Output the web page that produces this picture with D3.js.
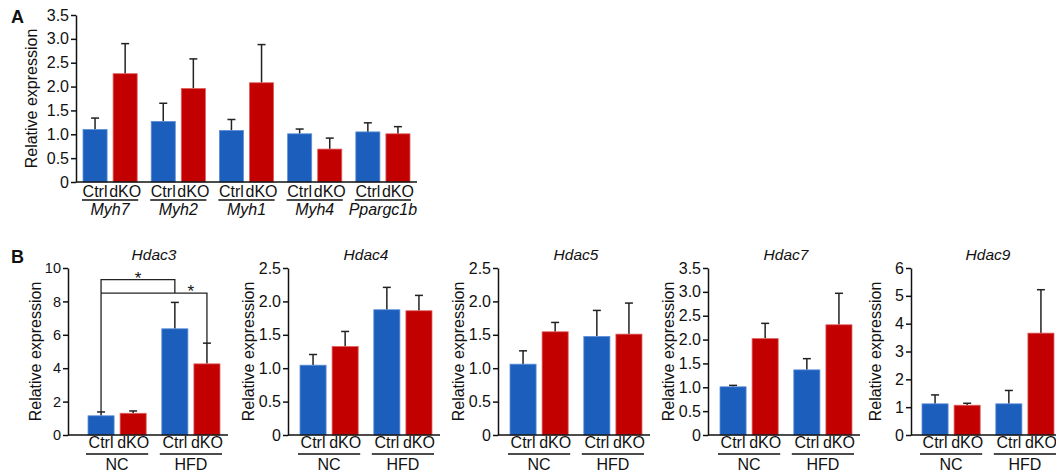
<!DOCTYPE html>
<html>
<head>
<meta charset="utf-8">
<script src="https://cdn.jsdelivr.net/npm/d3@7"></script>
<style>
  body { margin: 0; background: #fff; }
  text { font-family: "Liberation Sans", Arial, Helvetica, sans-serif; fill: #111; }
  .axis path, .axis line { stroke: #111; stroke-width: 1.5px; }
</style>
</head>
<body>
<svg width="1056" height="475"></svg>
<script>
// ---- panel A data ----
const genesA = ["Myh7", "Myh2", "Myh1", "Myh4", "Ppargc1b"];
const ctrlA = [1.10, 1.27, 1.08, 1.01, 1.05];
const ctrlSemA = [0.24, 0.38, 0.23, 0.10, 0.19];
const dkoA = [2.27, 1.96, 2.08, 0.69, 1.01];
const dkoSemA = [0.63, 0.62, 0.80, 0.23, 0.15];
const ticksA = [0, 0.5, 1.0, 1.5, 2.0, 2.5, 3.0, 3.5];

// ---- panel B data ----
const diets = ["NC", "HFD"];
const genotypes = ["Ctrl", "dKO"];
const hdacs = ["Hdac3", "Hdac4", "Hdac5", "Hdac7", "Hdac9"];
const ctrlB = [[1.15, 6.36], [1.045, 1.875], [1.06, 1.475], [1.01, 1.365], [1.12, 1.12]];
const ctrlSemB = [[0.23, 1.58], [0.16, 0.335], [0.20, 0.39], [0.03, 0.235], [0.32, 0.48]];
const dkoB = [[1.30, 4.26], [1.325, 1.86], [1.545, 1.51], [2.02, 2.31], [1.07, 3.66]];
const dkoSemB = [[0.14, 1.24], [0.225, 0.23], [0.14, 0.465], [0.32, 0.66], [0.07, 1.56]];
const ticksB = [
  [0, 2, 4, 6, 8, 10],
  [0, 0.5, 1.0, 1.5, 2.0, 2.5],
  [0, 0.5, 1.0, 1.5, 2.0, 2.5],
  [0, 0.5, 1.0, 1.5, 2.0, 2.5, 3.0, 3.5],
  [0, 1, 2, 3, 4, 5, 6]
];
// significance brackets in Hdac3 (y levels in data units)
const bracketLevels = [9.3, 8.5];

const blue = "#1c5ebc", red = "#c20000";
const svg = d3.select("svg");

function fmtTick(step) {
  return v => v === 0 ? "0" : (step < 1 ? d3.format(".1f")(v) : d3.format("d")(v));
}

// draws one bar panel; returns scales so extra marks can be placed
function drawPanel(p) {
  const g = svg.append("g");
  const y = d3.scaleLinear().domain([0, d3.max(p.ticks)]).range([p.y0, p.yTop]);
  const gx = d3.scaleBand().domain(p.groups).range(p.groupRange).paddingInner(p.groupPad);
  const bx = d3.scaleBand().domain(genotypes).range([0, gx.bandwidth()])
      .paddingInner(p.barPadInner).paddingOuter(p.barPadOuter);

  const rows = [];
  p.groups.forEach((grp, i) => {
    rows.push({grp, geno: "Ctrl", v: p.ctrl[i], e: p.ctrlSem[i]});
    rows.push({grp, geno: "dKO", v: p.dko[i], e: p.dkoSem[i]});
  });
  const cx = d => gx(d.grp) + bx(d.geno) + bx.bandwidth() / 2;

  // error bars (upper only)
  g.selectAll(".err").data(rows).enter().append("line")
      .attr("x1", cx).attr("x2", cx)
      .attr("y1", d => y(d.v)).attr("y2", d => y(d.v + d.e))
      .attr("stroke", "#222").attr("stroke-width", 1.5);
  g.selectAll(".cap").data(rows).enter().append("line")
      .attr("x1", d => cx(d) - 4).attr("x2", d => cx(d) + 4)
      .attr("y1", d => y(d.v + d.e)).attr("y2", d => y(d.v + d.e))
      .attr("stroke", "#222").attr("stroke-width", 1.5);

  // bars
  g.selectAll(".bar").data(rows).enter().append("rect")
      .attr("x", d => gx(d.grp) + bx(d.geno))
      .attr("y", d => y(d.v))
      .attr("width", bx.bandwidth())
      .attr("height", d => p.y0 - y(d.v))
      .attr("fill", d => d.geno === "Ctrl" ? blue : red)
      .attr("stroke", d => d.geno === "Ctrl" ? "#5d8fd6" : "#e06060")
      .attr("stroke-width", 0.8);

  // y axis
  const step = p.ticks[1] - p.ticks[0];
  g.append("g").attr("class", "axis")
      .attr("transform", `translate(${p.x0},0)`)
      .call(d3.axisLeft(y).tickValues(p.ticks).tickSize(5).tickSizeOuter(0)
        .tickPadding(2).tickFormat(fmtTick(step)))
      .selectAll("text").style("font-size", p.tickFont + "px");
  // x axis baseline
  g.append("line").attr("x1", p.x0).attr("x2", p.xEnd)
      .attr("y1", p.y0).attr("y2", p.y0)
      .attr("stroke", "#111").attr("stroke-width", 1.5);

  // genotype labels
  g.selectAll(".geno").data(rows).enter().append("text")
      .attr("x", cx).attr("y", p.genoY)
      .attr("text-anchor", "middle").style("font-size", "16px")
      .text(d => d.geno);
  // group underline + label
  g.selectAll(".uline").data(p.groups).enter().append("line")
      .attr("x1", d => gx(d) + p.lineInset).attr("x2", d => gx(d) + gx.bandwidth() - p.lineInset)
      .attr("y1", p.lineY).attr("y2", p.lineY)
      .attr("stroke", "#111").attr("stroke-width", 1.5);
  g.selectAll(".glabel").data(p.groups).enter().append("text")
      .attr("x", d => gx(d) + gx.bandwidth() / 2).attr("y", p.groupY)
      .attr("text-anchor", "middle").style("font-size", "16px")
      .style("font-style", p.italicGroups ? "italic" : "normal")
      .text(d => d);

  // y label
  g.append("text")
      .attr("transform", "rotate(-90)")
      .attr("x", -(p.y0 + p.yTop) / 2).attr("y", p.labelX)
      .attr("text-anchor", "middle").style("font-size", "16px")
      .text("Relative expression");

  if (p.title) {
    g.append("text")
      .attr("x", (p.groupRange[0] + p.groupRange[1]) / 2).attr("y", 260)
      .attr("text-anchor", "middle").style("font-size", "15.5px").style("font-style", "italic")
      .text(p.title);
  }
  return {g, y, gx, bx, rows, cx};
}

// ---- panel A ----
drawPanel({
  x0: 76, xEnd: 417, y0: 182, yTop: 15, ticks: ticksA, tickFont: 16,
  groups: genesA, ctrl: ctrlA, ctrlSem: ctrlSemA, dko: dkoA, dkoSem: dkoSemA,
  groupRange: [76, 417], groupPad: 0, barPadInner: 0.2, barPadOuter: 0.233,
  genoY: 197, lineY: 200, groupY: 215, lineInset: 6, italicGroups: true,
  labelX: 37
});

// ---- panel B ----
const layoutB = [
  {x0: 68, xEnd: 228, inset: 17, labelX: 41, tickFont: 14.5},
  {x0: 288, xEnd: 440, inset: 9, labelX: 254, tickFont: 16},
  {x0: 498, xEnd: 650, inset: 9, labelX: 464, tickFont: 16},
  {x0: 708, xEnd: 860, inset: 9, labelX: 674, tickFont: 16},
  {x0: 911, xEnd: 1056, inset: 8, labelX: 881, tickFont: 16}
];
const panelsB = hdacs.map((h, i) => drawPanel({
  x0: layoutB[i].x0, xEnd: layoutB[i].xEnd, y0: 435, yTop: 268, ticks: ticksB[i],
  tickFont: layoutB[i].tickFont,
  groups: diets, ctrl: ctrlB[i], ctrlSem: ctrlSemB[i], dko: dkoB[i], dkoSem: dkoSemB[i],
  groupRange: [layoutB[i].x0 + layoutB[i].inset, layoutB[i].x0 + layoutB[i].inset + 138],
  groupPad: 0.13, barPadInner: 0.1875, barPadOuter: 0.094,
  genoY: 448, lineY: 454, groupY: 470, lineInset: 1, italicGroups: false,
  labelX: layoutB[i].labelX, title: h
}));

// significance brackets on Hdac3
{
  const p = panelsB[0];
  const r = p.rows; // 0 Ctrl NC, 1 dKO NC, 2 Ctrl HFD, 3 dKO HFD
  const top = d => p.y(d.v + d.e);
  const y1 = p.y(bracketLevels[0]), y2 = p.y(bracketLevels[1]);
  const path = d3.path();
  path.moveTo(p.cx(r[0]), top(r[0])); path.lineTo(p.cx(r[0]), y1);
  path.lineTo(p.cx(r[2]), y1); path.lineTo(p.cx(r[2]), y2);
  path.moveTo(p.cx(r[0]), y2); path.lineTo(p.cx(r[3]), y2); path.lineTo(p.cx(r[3]), top(r[3]));
  p.g.append("path").attr("d", path.toString())
      .attr("fill", "none").attr("stroke", "#222").attr("stroke-width", 1.3);
  p.g.append("text").attr("x", (p.cx(r[0]) + p.cx(r[2])) / 2).attr("y", y1 + 4)
      .attr("text-anchor", "middle").style("font-size", "17px").text("*");
  p.g.append("text").attr("x", (p.cx(r[2]) + p.cx(r[3])) / 2).attr("y", y2 + 4)
      .attr("text-anchor", "middle").style("font-size", "17px").text("*");
}

// panel letters
svg.append("text").attr("x", 11).attr("y", 23).style("font-size", "18px").style("font-weight", "bold").text("A");
svg.append("text").attr("x", 11).attr("y", 263).style("font-size", "18px").style("font-weight", "bold").text("B");
</script>
</body>
</html>
